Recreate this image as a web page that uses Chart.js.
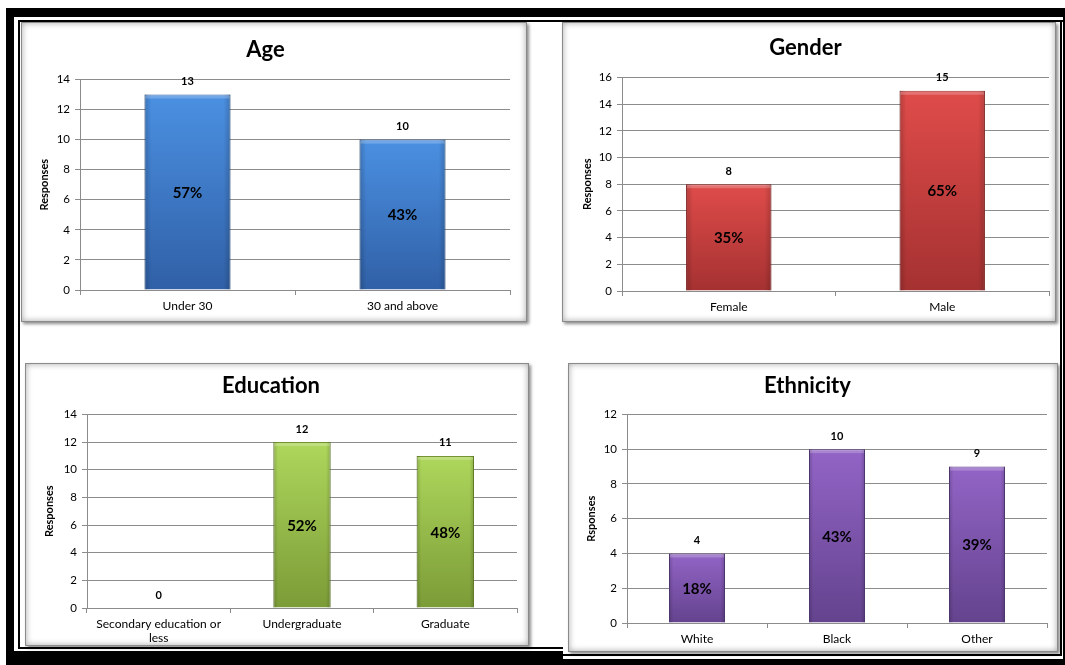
<!DOCTYPE html>
<html>
<head>
<meta charset="utf-8">
<title>Survey respondents</title>
<script src="https://cdn.jsdelivr.net/npm/chart.js@4.4.1/dist/chart.umd.min.js"></script>
<style>
  html, body { margin: 0; padding: 0; background: #fff; }
  body { width: 1065px; height: 665px; position: relative; overflow: hidden; }
  .rule { position: absolute; background: #000; }
  .panel {
    position: absolute; background: #fff; box-sizing: border-box;
    border: 1px solid #8a8a8a;
    box-shadow: inset 0 0 6px rgba(0,0,0,0.35), 2px 2px 3px rgba(0,0,0,0.45);
  }
  .panel canvas { position: absolute; left: -1px; top: -1px; }
</style>
</head>
<body>

<!-- page frame -->
<div class="rule" style="left:6px;top:8px;width:1059px;height:9px"></div>
<div class="rule" style="left:18px;top:20px;width:1047px;height:2px"></div>
<div class="rule" style="left:6px;top:8px;width:8px;height:657px"></div>
<div class="rule" style="left:18px;top:20px;width:2px;height:627px"></div>
<div class="rule" style="left:1060px;top:20px;width:2px;height:636px"></div>
<div class="rule" style="left:1063px;top:8px;width:2px;height:657px"></div>
<div class="rule" style="left:18px;top:647px;width:545px;height:2px"></div>
<div class="rule" style="left:6px;top:651px;width:557px;height:14px"></div>
<div class="rule" style="left:563px;top:654px;width:499px;height:2px"></div>
<div class="rule" style="left:563px;top:659px;width:502px;height:6px"></div>

<div class="panel" style="left:21px;top:22px;width:506px;height:300px"><canvas id="ageChart" width="506" height="300"></canvas></div>
<div class="panel" style="left:562px;top:22px;width:494px;height:300px"><canvas id="genderChart" width="494" height="300"></canvas></div>
<div class="panel" style="left:25px;top:363px;width:504px;height:283px"><canvas id="educationChart" width="504" height="283"></canvas></div>
<div class="panel" style="left:568px;top:363px;width:490px;height:289px"><canvas id="ethnicityChart" width="490" height="289"></canvas></div>

<script>
// ---- data ----
const ageCategories = ['Under 30', '30 and above'];
const ageValues = [13, 10];
const ageShares = ['57%', '43%'];

const genderCategories = ['Female', 'Male'];
const genderValues = [8, 15];
const genderShares = ['35%', '65%'];

const educationCategories = [['Secondary education or', 'less'], 'Undergraduate', 'Graduate'];
const educationValues = [0, 12, 11];
const educationShares = ['', '52%', '48%'];

const ethnicityCategories = ['White', 'Black', 'Other'];
const ethnicityValues = [4, 10, 9];
const ethnicityShares = ['18%', '43%', '39%'];

// axis tops (ticks every 2)
const ageMax = 14, genderMax = 16, educationMax = 14, ethnicityMax = 12;

// ---- styling ----
const FONT = 'Lato, "Open Sans", sans-serif';
const GRID = '#8c8c8c';

const palette = {
  blue:   { top: '#4b90e2', bottom: '#3060a6', edge: '#2f5f9f' },
  red:    { top: '#df4c4a', bottom: '#a53131', edge: '#9a2e2e' },
  green:  { top: '#aed75c', bottom: '#7b9b37', edge: '#73922f' },
  purple: { top: '#9264c6', bottom: '#64438e', edge: '#5c3f85' }
};

// vertical shading per bar, top light -> bottom dark
function barFill(ctx, col) {
  const chart = ctx.chart;
  const y = chart.scales && chart.scales.y;
  if (!y || ctx.type !== 'data') return col.top;
  const top = y.getPixelForValue(ctx.raw);
  const base = y.getPixelForValue(0);
  if (!isFinite(top) || !isFinite(base) || top >= base) return col.top;
  const g = chart.ctx.createLinearGradient(0, top, 0, base);
  g.addColorStop(0, col.top);
  g.addColorStop(1, col.bottom);
  return g;
}

// bevel shading, value on top and share in the middle of each bar
const barLabels = {
  id: 'barLabels',
  afterDatasetsDraw(chart, args, opts) {
    const c = chart.ctx;
    const meta = chart.getDatasetMeta(0);
    const values = chart.data.datasets[0].data;
    meta.data.forEach((bar, i) => {
      const left = bar.x - bar.width / 2;
      const h = bar.base - bar.y;
      c.save();
      if (h > 2) {
        const g = c.createLinearGradient(left, 0, left + bar.width, 0);
        g.addColorStop(0, 'rgba(0,0,0,0.18)');
        g.addColorStop(0.08, 'rgba(0,0,0,0)');
        g.addColorStop(0.92, 'rgba(0,0,0,0)');
        g.addColorStop(1, 'rgba(0,0,0,0.18)');
        c.fillStyle = g;
        c.fillRect(left, bar.y, bar.width, h);
        c.fillStyle = 'rgba(255,255,255,0.22)';
        c.fillRect(left + 1, bar.y + 1, bar.width - 2, 3);
      }
      c.fillStyle = '#000';
      c.textAlign = 'center';
      c.textBaseline = 'middle';
      c.font = 'bold 11px ' + FONT;
      c.fillText(String(values[i]), bar.x, bar.y - 13);
      const share = opts.shares[i];
      if (share) {
        c.font = 'bold 15px ' + FONT;
        c.fillText(share, bar.x, (bar.y + bar.base) / 2 + 1);
      }
      c.restore();
    });
  }
};

function drawPanel(id, spec) {
  return new Chart(document.getElementById(id), {
    type: 'bar',
    data: {
      labels: spec.categories,
      datasets: [{
        data: spec.values,
        backgroundColor: ctx => barFill(ctx, spec.colors),
        borderColor: spec.colors.edge,
        borderWidth: 1,
        barPercentage: 0.4,
        categoryPercentage: 1
      }]
    },
    options: {
      responsive: false,
      animation: false,
      layout: { padding: { left: 0, right: spec.padRight, top: 0, bottom: 0 } },
      plugins: {
        legend: { display: false },
        tooltip: { enabled: false },
        title: {
          display: true, text: spec.title, color: '#000',
          font: { family: FONT, size: 22, weight: 'bold' },
          padding: { top: spec.titleTop, bottom: spec.titleBottom }
        },
        barLabels: { shares: spec.shares }
      },
      scales: {
        x: {
          afterFit: s => { s.height = spec.xHeight; },
          grid: { drawOnChartArea: false, drawTicks: true, tickLength: 5, color: GRID, offset: true },
          border: { color: GRID },
          ticks: { color: '#000', font: { family: FONT, size: 12 }, padding: 4, maxRotation: 0, autoSkip: false }
        },
        y: {
          min: 0, max: spec.max,
          afterFit: s => { s.width = spec.yWidth; },
          grid: { color: GRID, tickLength: 5 },
          border: { color: GRID },
          ticks: { stepSize: 2, color: '#000', font: { family: FONT, size: 11.5 }, padding: 5 },
          title: {
            display: true, text: spec.yTitle, color: '#000',
            font: { family: FONT, size: 11, weight: 'bold' },
            padding: { top: spec.yTitlePad, bottom: 0 }
          }
        }
      }
    },
    plugins: [barLabels]
  });
}

drawPanel('ageChart', {
  title: 'Age', yTitle: 'Responses',
  categories: ageCategories, values: ageValues, shares: ageShares, max: ageMax,
  colors: palette.blue,
  padRight: 17, titleTop: 15, titleBottom: 16, xHeight: 32, yWidth: 59, yTitlePad: 17
});

drawPanel('genderChart', {
  title: 'Gender', yTitle: 'Responses',
  categories: genderCategories, values: genderValues, shares: genderShares, max: genderMax,
  colors: palette.red,
  padRight: 7, titleTop: 13, titleBottom: 16, xHeight: 31, yWidth: 60, yTitlePad: 19
});

drawPanel('educationChart', {
  title: 'Education', yTitle: 'Responses',
  categories: educationCategories, values: educationValues, shares: educationShares, max: educationMax,
  colors: palette.green,
  padRight: 12, titleTop: 10, titleBottom: 15, xHeight: 38, yWidth: 62, yTitlePad: 18
});

drawPanel('ethnicityChart', {
  title: 'Ethnicity', yTitle: 'Rsponses',
  categories: ethnicityCategories, values: ethnicityValues, shares: ethnicityShares, max: ethnicityMax,
  colors: palette.purple,
  padRight: 11, titleTop: 10, titleBottom: 15, xHeight: 29, yWidth: 59, yTitlePad: 17
});
</script>
</body>
</html>
